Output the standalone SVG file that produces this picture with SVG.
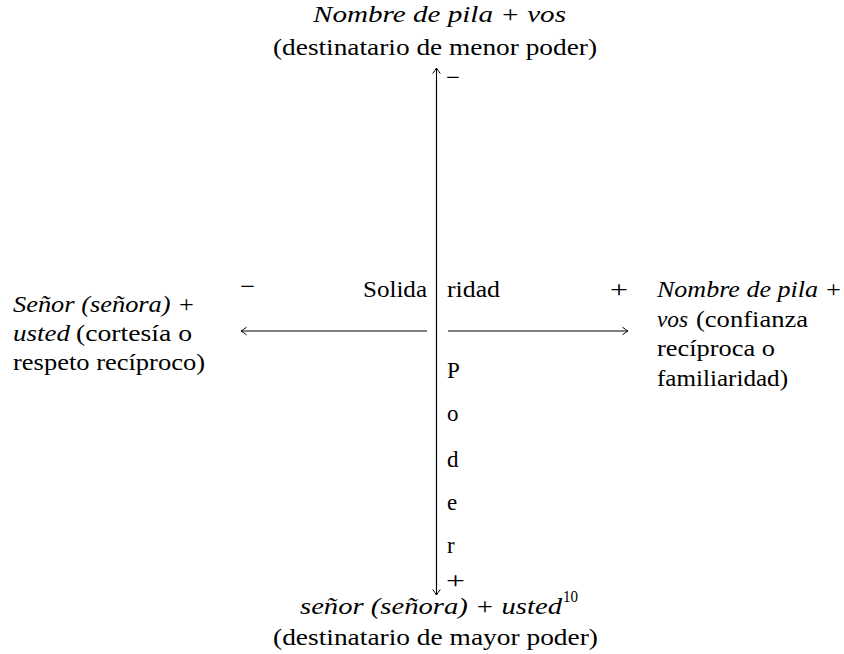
<svg xmlns="http://www.w3.org/2000/svg" width="844" height="654" viewBox="0 0 844 654">
<style>
text{font-family:'Liberation Serif','DejaVu Serif',serif;font-size:23px;fill:#000}
.it{font-style:italic}
.sup{font-size:16px}
.ln{stroke:#000;stroke-width:1.1;fill:none}
</style>
<defs>
<marker id="ah" markerUnits="userSpaceOnUse" viewBox="-7 -5 8 10" refX="0" refY="0" markerWidth="8" markerHeight="10" orient="auto" overflow="visible">
<path d="M-5.5,-3.8 Q-1.8,-1 0,0 Q-1.8,1 -5.5,3.8" stroke="#000" stroke-width="1" fill="none"/>
</marker>
</defs>
<rect width="844" height="654" fill="#fff"/>
<g id="connectors">
<line class="ln" x1="436.5" y1="590" x2="436.5" y2="68" marker-end="url(#ah)"/>
<line class="ln" x1="436.5" y1="80" x2="436.5" y2="595" marker-end="url(#ah)"/>
<line class="ln" x1="427" y1="331" x2="241" y2="331" marker-end="url(#ah)"/>
<line class="ln" x1="448" y1="331" x2="628" y2="331" marker-end="url(#ah)"/>
</g>
<g font-family="Liberation Serif">
<g id="top">
<text class="it" x="313" y="22" textLength="253" lengthAdjust="spacingAndGlyphs">Nombre de pila + vos</text>
<text x="273" y="55" textLength="324" lengthAdjust="spacingAndGlyphs">(destinatario de menor poder)</text>
<text x="446" y="85" textLength="14" lengthAdjust="spacingAndGlyphs">−</text>
</g>
<g id="bottom">
<text x="446" y="588" textLength="19" lengthAdjust="spacingAndGlyphs">+</text>
<text class="it" x="300" y="614" textLength="262" lengthAdjust="spacingAndGlyphs">señor (señora) + usted</text>
<text class="sup" x="563" y="602" textLength="15" lengthAdjust="spacingAndGlyphs">10</text>
<text x="273" y="645" textLength="325" lengthAdjust="spacingAndGlyphs">(destinatario de mayor poder)</text>
</g>
<g id="left">
<text x="240" y="294" textLength="15" lengthAdjust="spacingAndGlyphs">−</text>
<text class="it" x="13" y="312" textLength="182" lengthAdjust="spacingAndGlyphs">Señor (señora) +</text>
<text class="it" x="13" y="341" textLength="57" lengthAdjust="spacingAndGlyphs">usted</text>
<text x="76" y="341" textLength="116" lengthAdjust="spacingAndGlyphs">(cortesía o</text>
<text x="13" y="370" textLength="192" lengthAdjust="spacingAndGlyphs">respeto recíproco)</text>
</g>
<g id="right">
<text x="610" y="297" textLength="18" lengthAdjust="spacingAndGlyphs">+</text>
<text class="it" x="657" y="297" textLength="185" lengthAdjust="spacingAndGlyphs">Nombre de pila +</text>
<text class="it" x="657" y="327" textLength="31" lengthAdjust="spacingAndGlyphs">vos</text>
<text x="696" y="327" textLength="112" lengthAdjust="spacingAndGlyphs">(confianza</text>
<text x="657" y="356" textLength="118" lengthAdjust="spacingAndGlyphs">recíproca o</text>
<text x="657" y="386" textLength="131" lengthAdjust="spacingAndGlyphs">familiaridad)</text>
</g>
<g id="solidaridad">
<text x="363" y="297" textLength="64" lengthAdjust="spacingAndGlyphs">Solida</text>
<text x="447" y="297" textLength="53" lengthAdjust="spacingAndGlyphs">ridad</text>
</g>
<g id="poder">
<text x="447" y="378">P</text>
<text x="447" y="421">o</text>
<text x="447" y="467">d</text>
<text x="447" y="510">e</text>
<text x="447" y="553">r</text>
</g>
</g>
</svg>
